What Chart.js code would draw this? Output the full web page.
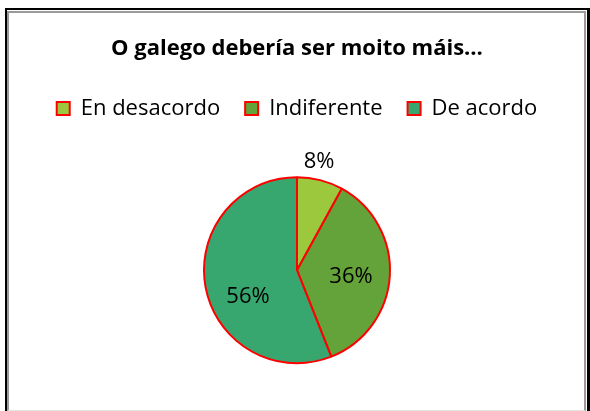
<!DOCTYPE html>
<html>
<head>
<meta charset="utf-8">
<script src="https://cdn.jsdelivr.net/npm/chart.js@4/dist/chart.umd.min.js"></script>
<style>
    html, body { margin: 0; padding: 0; background: #fff; }
    body { width: 590px; height: 411px; position: relative; overflow: hidden; }
    .marco-negro {
        position: absolute; left: 5px; top: 8px; width: 580px; height: 420px;
        border-left: 2px solid #000; border-top: 2px solid #000; border-right: 3px solid #000;
    }
    .marco-gris {
        position: absolute; left: 7px; top: 11px; width: 575px; height: 397px;
        border-left: 2px solid #9a9a9a; border-top: 2px solid #9a9a9a; border-right: 2px solid #9a9a9a;
        border-bottom: 1px solid #e4e4e4;
    }
    #grafico { position: absolute; left: 0; top: 0; }
</style>
</head>
<body>
<div class="marco-negro"></div>
<div class="marco-gris"></div>
<canvas id="grafico" width="590" height="411"></canvas>
<script>
// datos
const titulo = 'O galego debería ser moito máis…';
const categorias = ['En desacordo', 'Indiferente', 'De acordo'];
const valores = [8, 36, 56];

const colores = ['#9bc83c', '#63a339', '#38a76f'];
const fuente = '"Open Sans", Lato, sans-serif';

// colocación de las etiquetas de porcentaje (giro en radianes, distancia en radios)
const colocacion = [
    { giro: -0.05, dist: 1.19 },
    { giro: 0.066, dist: 0.586 },
    { giro: -0.30, dist: 0.597 }
];

const etiquetasPorcentaje = {
    id: 'etiquetasPorcentaje',
    afterDatasetsDraw(chart) {
        const ctx = chart.ctx;
        const meta = chart.getDatasetMeta(0);
        const total = valores.reduce(function (a, b) { return a + b; }, 0);
        ctx.save();
        ctx.font = '22px ' + fuente;
        ctx.fillStyle = '#000';
        ctx.textAlign = 'center';
        ctx.textBaseline = 'middle';
        meta.data.forEach(function (arco, i) {
            const p = arco.getProps(['x', 'y', 'startAngle', 'endAngle', 'outerRadius'], true);
            const ang = (p.startAngle + p.endAngle) / 2 + colocacion[i].giro;
            const r = p.outerRadius * colocacion[i].dist;
            const texto = Math.round(valores[i] / total * 100) + '%';
            ctx.fillText(texto, p.x + Math.cos(ang) * r, p.y + Math.sin(ang) * r);
        });
        ctx.restore();
    }
};

window.addEventListener('load', function () {
    const ctx = document.getElementById('grafico');
    if (!ctx || typeof Chart === 'undefined') {
        return;
    }

    new Chart(ctx, {
        type: 'pie',
        data: {
            labels: categorias,
            datasets: [{
                data: valores,
                backgroundColor: colores,
                borderColor: '#ff0000',
                borderWidth: 2
            }]
        },
        options: {
            responsive: false,
            animation: false,
            radius: 93,
            layout: {
                padding: { top: 0, left: 4, right: 0, bottom: 0 }
            },
            plugins: {
                title: {
                    display: true,
                    text: titulo,
                    color: '#000',
                    font: { family: fuente, size: 22, weight: 'bold' },
                    padding: { top: 36, bottom: 10 }
                },
                legend: {
                    position: 'top',
                    labels: {
                        color: '#000',
                        font: { family: fuente, size: 22 },
                        boxWidth: 13,
                        boxHeight: 13,
                        padding: 25
                    }
                },
                tooltip: { enabled: false }
            }
        },
        plugins: [etiquetasPorcentaje]
    });
});
</script>
</body>
</html>
